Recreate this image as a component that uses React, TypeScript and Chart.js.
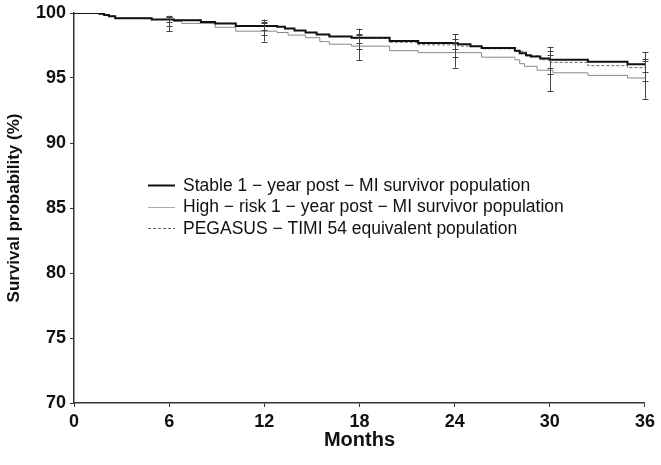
import React, { useEffect, useRef } from "react";
import { Chart, registerables } from "chart.js";

Chart.register(...registerables);

// ---- Data (months, survival %) ----
const stableX = [0, 1.6, 1.9, 2.2, 2.6, 4.9, 6.3, 8.0, 8.9, 10.2, 12.8, 13.3, 13.9, 14.6, 15.3, 16.1, 17.5, 19.9, 21.7, 24.2, 25.0, 25.7, 27.8, 28.1, 28.5, 28.8, 29.4, 30.0, 32.4, 34.9, 36];
const stableY = [100, 99.95, 99.85, 99.75, 99.6, 99.5, 99.45, 99.3, 99.2, 99.0, 98.95, 98.8, 98.65, 98.5, 98.35, 98.2, 98.1, 97.85, 97.7, 97.6, 97.45, 97.3, 97.1, 96.9, 96.75, 96.65, 96.5, 96.4, 96.25, 96.05, 96.0];

const highRiskX = [0, 1.6, 1.9, 2.2, 2.6, 4.9, 6.3, 6.8, 8.9, 10.2, 12.8, 13.5, 14.6, 15.5, 16.1, 17.5, 19.9, 21.7, 25.7, 27.8, 28.1, 28.4, 29.2, 30.2, 32.4, 34.9, 36];
const highRiskY = [100, 99.95, 99.85, 99.75, 99.6, 99.5, 99.35, 99.2, 98.9, 98.6, 98.5, 98.3, 98.1, 97.8, 97.6, 97.45, 97.1, 96.95, 96.6, 96.4, 96.1, 95.9, 95.6, 95.4, 95.2, 95.0, 95.0];

const pegasusX = [0, 1.6, 1.9, 2.2, 2.6, 4.9, 6.3, 8.0, 8.9, 10.2, 12.8, 13.3, 13.9, 14.6, 15.3, 16.1, 17.5, 19.9, 21.7, 24.2, 25.7, 27.8, 28.5, 29.4, 30.0, 32.4, 34.9, 36];
const pegasusY = [100, 99.95, 99.85, 99.75, 99.6, 99.5, 99.45, 99.3, 99.2, 99.0, 98.95, 98.8, 98.65, 98.5, 98.35, 98.2, 98.05, 97.75, 97.55, 97.45, 97.25, 97.05, 96.7, 96.4, 96.2, 95.95, 95.8, 95.75];

// Confidence interval bars
const ciMonths = [6, 12, 18, 24, 30, 36];
const stableUpper = [99.7, 99.2, 98.4, 98.0, 97.1, 96.5];
const stableLower = [99.3, 98.7, 97.7, 97.2, 95.8, 95.5];
const pegasusUpper = [99.8, 99.5, 98.8, 98.35, 97.4, 97.0];
const pegasusLower = [99.0, 98.3, 97.2, 96.6, 95.3, 94.8];
const highRiskUpper = [99.7, 99.3, 98.3, 97.8, 96.8, 96.3];
const highRiskLower = [98.6, 97.8, 96.4, 95.8, 94.0, 93.4];

const xTicks = [0, 6, 12, 18, 24, 30, 36];
const yTicks = [70, 75, 80, 85, 90, 95, 100];

const seriesLabels = [
  "Stable 1 \u2212 year post \u2212 MI survivor population",
  "High \u2212 risk 1 \u2212 year post \u2212 MI survivor population",
  "PEGASUS \u2212 TIMI 54 equivalent population",
];

const toPoints = (xs: number[], ys: number[]) => xs.map((x, i) => ({ x, y: ys[i] }));

const ciPlugin = {
  id: "ciBars",
  afterDatasetsDraw(chart: any) {
    const { ctx, scales } = chart;
    const xs = scales.x;
    const ys = scales.y;
    ctx.save();
    ctx.strokeStyle = "#444";
    ctx.lineWidth = 1;
    ciMonths.forEach((m, i) => {
      const vals = [stableUpper[i], stableLower[i], pegasusUpper[i], pegasusLower[i], highRiskUpper[i], highRiskLower[i]];
      const px = Math.round(xs.getPixelForValue(m)) + 0.5;
      const top = ys.getPixelForValue(Math.max(...vals));
      const bot = ys.getPixelForValue(Math.min(...vals));
      ctx.beginPath();
      ctx.moveTo(px, top);
      ctx.lineTo(px, bot);
      vals.forEach((v) => {
        const py = Math.round(ys.getPixelForValue(v)) + 0.5;
        ctx.moveTo(px - 3, py);
        ctx.lineTo(px + 3, py);
      });
      ctx.stroke();
    });
    ctx.restore();
  },
};

const legendPlugin = {
  id: "innerLegend",
  afterDraw(chart: any) {
    const { ctx } = chart;
    const rows = [185, 206.5, 228];
    ctx.save();
    ctx.font = "17.5px 'Liberation Sans', Arial, sans-serif";
    ctx.textBaseline = "middle";
    ctx.fillStyle = "#111";
    chart.data.datasets.forEach((ds: any, i: number) => {
      const y = rows[i];
      ctx.beginPath();
      ctx.strokeStyle = i === 1 ? "#aaa" : ds.borderColor;
      ctx.lineWidth = ds.borderWidth;
      ctx.setLineDash(ds.borderDash || []);
      ctx.moveTo(148, Math.round(y) + 0.5);
      ctx.lineTo(175, Math.round(y) + 0.5);
      ctx.stroke();
      ctx.setLineDash([]);
      ctx.fillText(ds.label, 183, y + 1);
    });
    ctx.restore();
  },
};

export default function App() {
  const ref = useRef<HTMLCanvasElement | null>(null);
  useEffect(() => {
    if (!ref.current) return;
    const tickFont = { family: "'Liberation Sans', Arial, sans-serif", size: 18, weight: "bold" as const, lineHeight: 1 };
    const chart = new Chart(ref.current, {
      type: "line",
      data: {
        datasets: [
          {
            label: seriesLabels[0],
            data: toPoints(stableX, stableY),
            borderColor: "#111",
            borderWidth: 2,
            stepped: true,
            pointRadius: 0,
          },
          {
            label: seriesLabels[1],
            data: toPoints(highRiskX, highRiskY),
            borderColor: "#888",
            borderWidth: 1,
            stepped: true,
            pointRadius: 0,
          },
          {
            label: seriesLabels[2],
            data: toPoints(pegasusX, pegasusY),
            borderColor: "#666",
            borderWidth: 1,
            borderDash: [3, 2],
            stepped: true,
            pointRadius: 0,
          },
        ],
      },
      options: {
        animation: false,
        responsive: false,
        devicePixelRatio: 1,
        layout: { padding: { top: 10, right: 14, left: 0, bottom: 0 } },
        plugins: { legend: { display: false }, tooltip: { enabled: false } },
        scales: {
          x: {
            type: "linear",
            min: 0,
            max: 36,
            afterBuildTicks: (s: any) => {
              s.ticks = xTicks.map((v) => ({ value: v }));
            },
            afterFit: (s: any) => {
              s.height = 62;
            },
            grid: { drawOnChartArea: false, tickLength: 4, color: "#333" },
            border: { display: true, color: "#333", width: 1.5 },
            ticks: { font: tickFont, color: "#111", padding: 6, maxRotation: 0 },
            title: {
              display: true,
              text: "Months",
              color: "#111",
              font: { family: "'Liberation Sans', Arial, sans-serif", size: 20, weight: "bold" },
              padding: { top: 0, bottom: 13 },
            },
          },
          y: {
            type: "linear",
            min: 70,
            max: 100,
            afterBuildTicks: (s: any) => {
              s.ticks = yTicks.map((v) => ({ value: v }));
            },
            afterFit: (s: any) => {
              s.width = 74;
            },
            grid: { drawOnChartArea: false, tickLength: 4, color: "#333" },
            border: { display: true, color: "#333", width: 1.5 },
            ticks: { font: tickFont, color: "#111", padding: 4 },
            title: {
              display: true,
              text: "Survival probability (%)",
              color: "#111",
              font: { family: "'Liberation Sans', Arial, sans-serif", size: 17, weight: "bold" },
              padding: { top: 4, bottom: 0 },
            },
          },
        },
      },
      plugins: [ciPlugin, legendPlugin],
    });
    return () => chart.destroy();
  }, []);
  return (
    <div style={{ position: "fixed", left: 0, top: 0, width: 661, height: 465, background: "#fff" }}>
      <canvas ref={ref} width={661} height={465} />
    </div>
  );
}
